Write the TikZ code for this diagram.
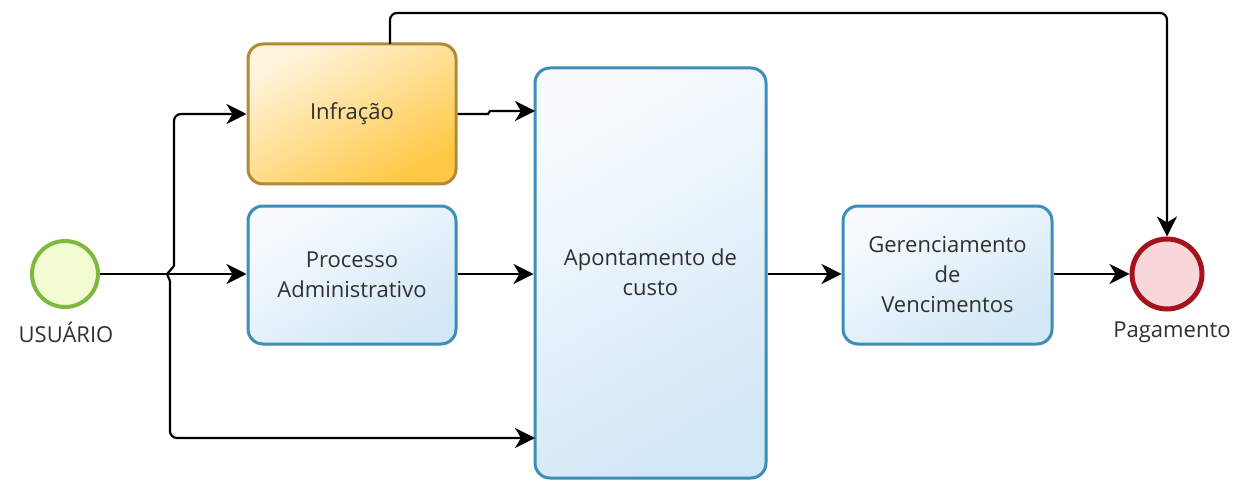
\documentclass[tikz,border=0pt]{standalone}
\usepackage{fontspec}
\setmainfont{Open Sans}
\usetikzlibrary{arrows.meta}
\definecolor{orbd}{HTML}{B38A34}
\definecolor{orlt}{HTML}{FFF4DC}
\definecolor{ordk}{HTML}{FFC845}
\definecolor{blbd}{HTML}{3C8DB8}
\definecolor{bllt}{HTML}{F7FBFE}
\definecolor{bldk}{HTML}{D3E8F6}
\definecolor{grbd}{HTML}{7DB83F}
\definecolor{grfl}{HTML}{F3FBD3}
\definecolor{rdbd}{HTML}{A3121D}
\definecolor{rdfl}{HTML}{F8D6DA}
\definecolor{txt}{HTML}{303030}
\tikzset{
  lbl/.style={font=\fontsize{22}{30}\selectfont, text=txt, align=center},
  task/.style={lbl, rounded corners=15, line width=3pt, inner sep=4pt},
  orangetask/.style={task, draw=orbd, top color=orlt, bottom color=ordk, shading angle=30},
  bluetask/.style={task, draw=blbd, top color=bllt, bottom color=bldk, shading angle=30},
  arr/.style={line width=2.2pt, -{Stealth[length=20pt,width=20pt,inset=6pt]}},
  ln/.style={line width=2.2pt}
}
\begin{document}
\begin{tikzpicture}[x=1pt,y=-1pt]
\useasboundingbox (0,0) rectangle (1236,481);
% events
\node[circle, minimum size=66pt, line width=4pt, draw=grbd, fill=grfl] (usr) at (65,274) {};
\node[lbl, anchor=north] (usrl) at (66,318) {USUÁRIO};
\node[circle, minimum size=70pt, line width=5pt, draw=rdbd, fill=rdfl] (pag) at (1167,274) {};
\node[lbl, anchor=north] (pagl) at (1172,318) {Pagamento};
% tasks
\node[orangetask, minimum width=208pt, minimum height=140pt] (inf) at (352,114) {Infração};
\node[bluetask, minimum width=208pt, minimum height=138pt] (proc) at (352,275) {Processo\\Administrativo};
\node[bluetask, minimum width=231pt, minimum height=410pt] (apo) at (650.5,273) {};
\node[lbl] (apot) at (650.5,272) {Apontamento de\\custo};
\node[bluetask, minimum width=209pt, minimum height=138pt] (ger) at (947.5,275) {Gerenciamento\\de\\Vencimentos};
% coordinates
\coordinate (hopT) at (174,266);
\coordinate (hopM) at (167,274);
\coordinate (hopB) at (170,281);
\coordinate (apoB) at (535,438);
\coordinate (apoA) at (535,111);
\coordinate (infTop) at (390,44);
\coordinate (topY) at (0,13);
\coordinate (infJ) at (488,114);
% connectors
\draw[arr] (usr.east) -- (proc.west |- usr.east);
\draw[ln] (hopT) -- (hopM) -- (hopB);
\draw[arr, rounded corners=7] (hopT) |- (inf.west);
\draw[arr, rounded corners=7] (hopB) |- (apoB);
\draw[arr] (inf.east) -- (infJ) -- ++(2,-3) -- (apoA);
\draw[arr] (proc.east |- usr.east) -- (apo.west |- usr.east);
\draw[arr] (apo.east |- usr.east) -- (ger.west |- usr.east);
\draw[arr] (ger.east |- usr.east) -- (pag.west);
\draw[arr, rounded corners=7] (infTop) |- (topY -| pag.north) -- (pag.north);
\end{tikzpicture}
\end{document}
